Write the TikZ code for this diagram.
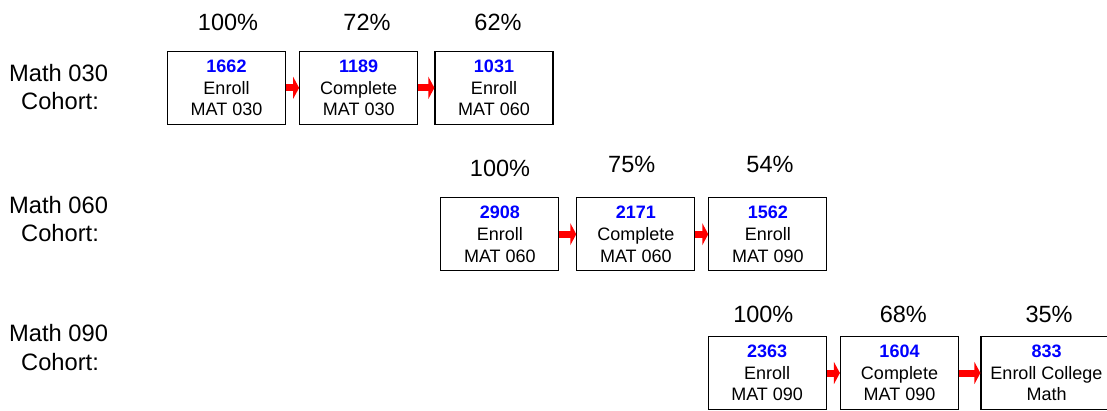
\documentclass[tikz,border=0pt]{standalone}
\usepackage{fontspec}
\setmainfont{Liberation Sans}
\usetikzlibrary{arrows.meta}
\newcommand\bluenum[1]{{\color{blue}\bfseries #1}}
\begin{document}
\begin{tikzpicture}[x=1pt,y=-1pt,
  stepbox/.style={draw=black, line width=1.2pt, inner sep=0pt, align=center,
    font=\fontsize{18}{21.6}\selectfont, minimum width=118pt, minimum height=72.5pt},
  pct/.style={anchor=base, inner sep=0pt, font=\fontsize{23.5}{27}\selectfont},
  coh/.style={anchor=base, inner sep=0pt, font=\fontsize{23.7}{27.6}\selectfont},
  flow/.style={draw=red, line width=7pt, -{Triangle[length=6pt,width=22pt]}}
]
\useasboundingbox (0,0) rectangle (1107,410);

% cohort labels
\node[coh] (m1) at (58.6,81.7) {Math 030};
\node[coh] (k1) at (60,109.3) {Cohort:};
\node[coh] (m2) at (58.6,213.3) {Math 060};
\node[coh] (k2) at (60,241.7) {Cohort:};
\node[coh] (m3) at (58.6,341) {Math 090};
\node[coh] (k3) at (60,370) {Cohort:};

% row 1
\node[stepbox] (a1) at (226.5,87.85) {\bluenum{1662}\\Enroll\\MAT 030};
\node[stepbox] (a2) at (358.7,87.85) {\bluenum{1189}\\Complete\\MAT 030};
\node[stepbox] (a3) at (494,87.85) {\bluenum{1031}\\Enroll\\MAT 060};
\node[pct] (p1a) at (228,30.7) {100\%};
\node[pct] (p1b) at (367,30.7) {72\%};
\node[pct] (p1c) at (498,30.7) {62\%};
\draw[flow] (a1.east) -- (a2.west);
\draw[flow] (a2.east) -- (a3.west);

% row 2
\node[stepbox, minimum height=73pt] (b1) at (499.85,234.2) {\bluenum{2908}\\Enroll\\MAT 060};
\node[stepbox, minimum height=73pt] (b2) at (635.85,234.2) {\bluenum{2171}\\Complete\\MAT 060};
\node[stepbox, minimum height=73pt] (b3) at (767.85,234.2) {\bluenum{1562}\\Enroll\\MAT 090};
\node[pct] (p2a) at (500,176) {100\%};
\node[pct] (p2b) at (631.7,172.3) {75\%};
\node[pct] (p2c) at (770,172.3) {54\%};
\draw[flow] (b1.east) -- (b2.west);
\draw[flow] (b2.east) -- (b3.west);

% row 3
\node[stepbox] (c1) at (767.15,373) {\bluenum{2363}\\Enroll\\MAT 090};
\node[stepbox] (c2) at (899.5,373) {\bluenum{1604}\\Complete\\MAT 090};
\node[stepbox, minimum width=131pt] (c3) at (1046.5,373) {\bluenum{833}\\Enroll College\\Math};
\node[pct] (p3a) at (763.3,322.6) {100\%};
\node[pct] (p3b) at (903.3,322.6) {68\%};
\node[pct] (p3c) at (1049,322.3) {35\%};
\draw[flow] (c1.east) -- (c2.west);
\draw[flow] (c2.east) -- (c3.west);
\end{tikzpicture}
\end{document}
